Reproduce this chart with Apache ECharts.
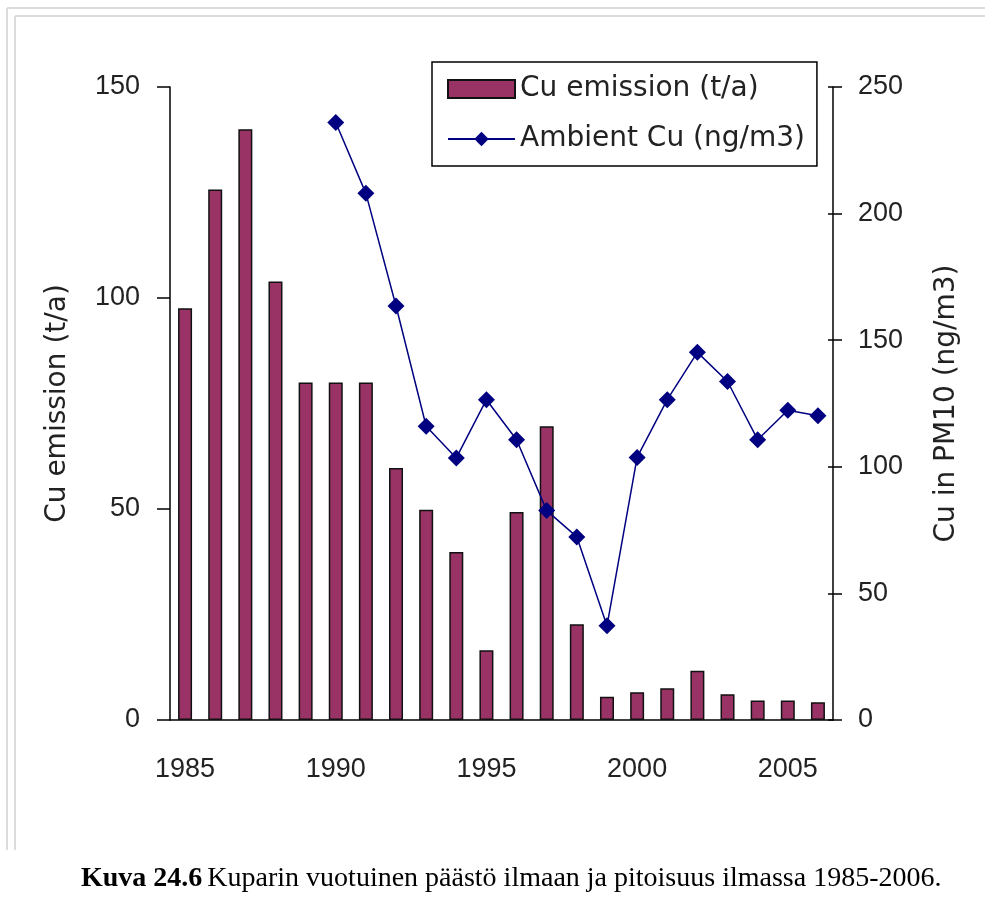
<!DOCTYPE html>
<html>
<head>
<meta charset="utf-8">
<script src="https://cdn.jsdelivr.net/npm/echarts@6/dist/echarts.min.js"></script>
<style>
html,body{margin:0;padding:0;background:#fff;}
#chart{width:985px;height:897px;}
</style>
</head>
<body>
<div id="chart"></div>
<script>
var years = ['1985','1986','1987','1988','1989','1990','1991','1992','1993','1994','1995','1996','1997','1998','1999','2000','2001','2002','2003','2004','2005','2006'];
var emission = [97.6, 125.7, 140, 103.9, 80, 80, 80, 59.7, 49.8, 39.8, 16.5, 49.3, 69.6, 22.7, 5.5, 6.6, 7.5, 11.7, 6.1, 4.6, 4.6, 4.2];
var ambient = [null, null, null, null, null, 236, 208, 163.5, 116, 103.5, 126.5, 110.7, 82.7, 72.3, 37.2, 103.7, 126.5, 145.2, 133.7, 110.7, 122.3, 120.2];
var leftTicks = [0, 150, 50];
var rightTicks = [0, 250, 50];
var seriesNames = ['Cu emission (t/a)', 'Ambient Cu (ng/m3)'];
var leftTitle = 'Cu emission (t/a)';
var rightTitle = 'Cu in PM10 (ng/m3)';
var caption = '{b|Kuva 24.6} {n|Kuparin vuotuinen päästö ilmaan ja pitoisuus ilmassa 1985-2006.}';

var chart = echarts.init(document.getElementById('chart'), null, {renderer: 'canvas'});
var tickFont = {fontFamily: 'Liberation Sans', fontSize: 27, color: '#222'};
var nameFont = {fontFamily: 'DejaVu Sans', fontSize: 28, color: '#222'};
var frame = '#dcdcdc';

var option = {
  backgroundColor: '#fff',
  animation: false,
  title: {
    text: caption,
    left: 76, top: 860,
    textStyle: {
      fontWeight: 'normal',
      rich: {
        b: {fontFamily: 'Liberation Serif', fontSize: 28, fontWeight: 'bold', color: '#000'},
        n: {fontFamily: 'Liberation Serif', fontSize: 28, fontWeight: 'normal', color: '#000'}
      }
    }
  },
  graphic: [
    {type: 'line', shape: {x1: 7, y1: 8, x2: 985, y2: 8}, style: {stroke: frame, lineWidth: 2}},
    {type: 'line', shape: {x1: 7, y1: 8, x2: 7, y2: 850}, style: {stroke: frame, lineWidth: 2}},
    {type: 'line', shape: {x1: 15, y1: 16, x2: 985, y2: 16}, style: {stroke: frame, lineWidth: 2}},
    {type: 'line', shape: {x1: 15, y1: 16, x2: 15, y2: 850}, style: {stroke: frame, lineWidth: 2}}
  ],
  legend: {
    orient: 'vertical',
    left: 432, top: 62,
    backgroundColor: '#fff',
    borderColor: '#000', borderWidth: 1.5,
    padding: [12, 12, 12, 15],
    itemWidth: 67, itemHeight: 18, itemGap: 20,
    textStyle: {fontFamily: 'DejaVu Sans', fontSize: 28, color: '#222', lineHeight: 30},
    data: [{name: seriesNames[0], icon: 'rect'}, {name: seriesNames[1]}]
  },
  grid: {left: 170, right: 152, top: 87, bottom: 177},
  xAxis: [
    {
      type: 'category', data: years, position: 'bottom',
      axisLine: {lineStyle: {color: '#000', width: 1.5}},
      axisTick: {interval: 0, length: 9, lineStyle: {color: '#000', width: 1.5}},
      axisLabel: Object.assign({interval: 4, margin: 36}, tickFont)
    },
    {
      type: 'category', data: years, position: 'bottom',
      axisLine: {show: false},
      axisTick: {interval: 0, inside: true, length: 9, lineStyle: {color: '#000', width: 1.5}},
      axisLabel: {show: false}
    }
  ],
  yAxis: [
    {
      type: 'value', min: leftTicks[0], max: leftTicks[1], interval: leftTicks[2], position: 'left',
      name: leftTitle, nameLocation: 'middle', nameGap: 98, nameRotate: 90, nameTextStyle: nameFont,
      axisLine: {show: true, lineStyle: {color: '#000', width: 1.5}},
      axisTick: {show: true, length: 13, lineStyle: {color: '#000', width: 1.5}},
      axisLabel: Object.assign({margin: 30}, tickFont),
      splitLine: {show: false}
    },
    {
      type: 'value', min: rightTicks[0], max: rightTicks[1], interval: rightTicks[2], position: 'right',
      name: rightTitle, nameLocation: 'middle', nameGap: 100, nameRotate: 90, nameTextStyle: nameFont,
      axisLine: {show: true, lineStyle: {color: '#000', width: 1.5}},
      axisTick: {show: true, length: 9, lineStyle: {color: '#000', width: 1.5}},
      axisLabel: Object.assign({margin: 25}, tickFont),
      splitLine: {show: false}
    },
    {
      type: 'value', min: rightTicks[0], max: rightTicks[1], interval: rightTicks[2], position: 'right',
      axisLine: {show: false},
      axisTick: {show: true, inside: true, length: 5, lineStyle: {color: '#000', width: 1.5}},
      axisLabel: {show: false},
      splitLine: {show: false}
    }
  ],
  series: [
    {
      name: seriesNames[0], type: 'bar', xAxisIndex: 0, yAxisIndex: 0,
      data: emission, barWidth: 14,
      itemStyle: {color: '#993366', borderColor: '#111', borderWidth: 1.5}
    },
    {
      name: seriesNames[1], type: 'line', xAxisIndex: 0, yAxisIndex: 1,
      data: ambient, connectNulls: false,
      symbol: 'diamond', symbolSize: 17,
      lineStyle: {color: '#000080', width: 1.5},
      itemStyle: {color: '#000080'}
    }
  ]
};
chart.setOption(option);
</script>
</body>
</html>
